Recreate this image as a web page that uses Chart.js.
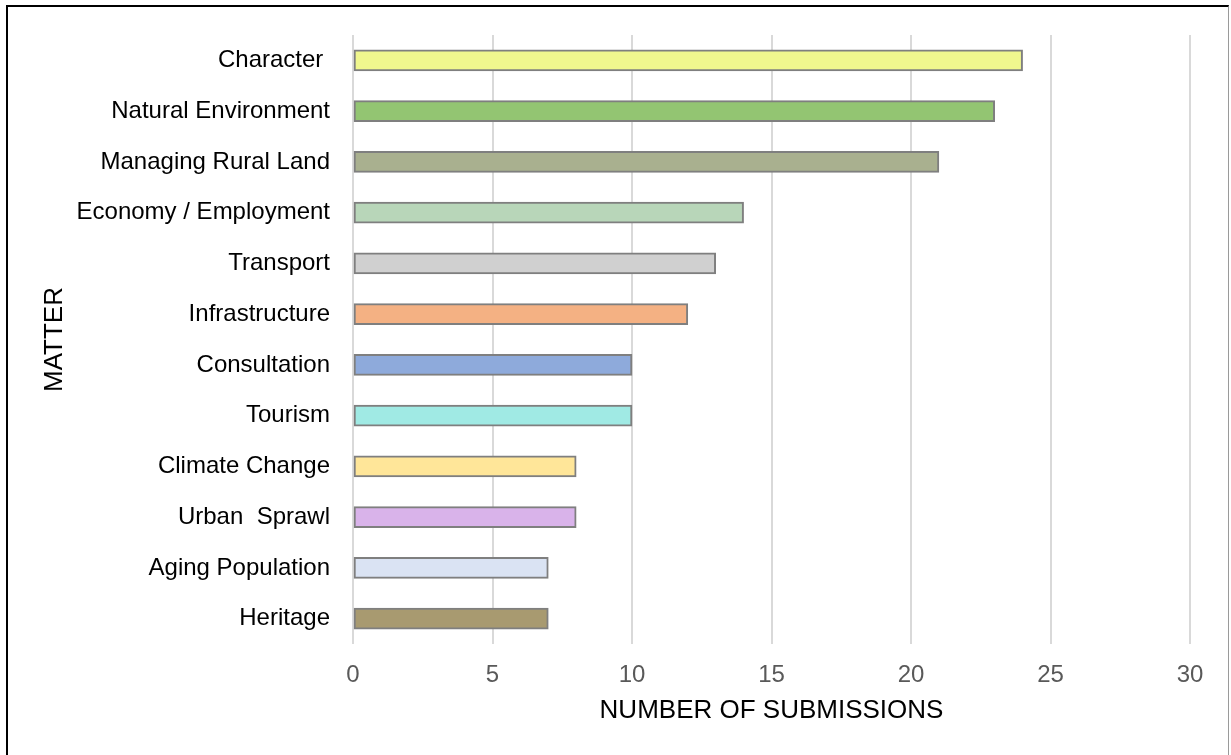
<!DOCTYPE html>
<html>
<head>
<meta charset="utf-8">
<script src="https://cdn.jsdelivr.net/npm/chart.js@4.4.1/dist/chart.umd.min.js"></script>
<style>
  html, body { margin: 0; padding: 0; background: #fff; }
  body { width: 1231px; height: 755px; position: relative; overflow: hidden; }
  #frame {
    position: absolute; left: 6px; top: 5px; width: 1220px; height: 760px;
    border-left: 2.5px solid #000; border-top: 2.5px solid #000; border-right: 1px solid #9a9a9a;
    pointer-events: none;
  }
  #mattersChart { position: absolute; left: 0; top: 0; }
</style>
</head>
<body>
<canvas id="mattersChart" width="1231" height="755"></canvas>
<div id="frame"></div>
<script>
const matters = ['Character ', 'Natural Environment', 'Managing Rural Land', 'Economy / Employment',
  'Transport', 'Infrastructure', 'Consultation', 'Tourism', 'Climate Change', 'Urban  Sprawl',
  'Aging Population', 'Heritage'];
const submissions = [24, 23, 21, 14, 13, 12, 10, 10, 8, 8, 7, 7];
const barColours = ['#f0f78e', '#93c572', '#a9b08f', '#b8d6b9', '#d0d0d0', '#f4b183',
  '#8eaadb', '#a0eae4', '#ffe699', '#d9b3ea', '#dae3f3', '#a89a70'];
const xTicks = [0, 5, 10, 15, 20, 25, 30];

Chart.defaults.font.family = '"Liberation Sans", Arial, sans-serif';

const ctx = document.getElementById('mattersChart').getContext('2d');
const chart = new Chart(ctx, {
  type: 'bar',
  data: {
    labels: matters,
    datasets: [{
      label: 'Number of submissions',
      data: submissions,
      backgroundColor: barColours,
      borderColor: '#7f7f7f',
      borderWidth: 2,
      borderSkipped: false,
      barThickness: 21
    }]
  },
  options: {
    indexAxis: 'y',
    responsive: false,
    animation: false,
    devicePixelRatio: 1,
    layout: { padding: { top: 35, right: 41, bottom: 25, left: 35 } },
    plugins: {
      legend: { display: false },
      tooltip: { enabled: false }
    },
    scales: {
      x: {
        min: 0,
        max: 30,
        afterBuildTicks: (scale) => { scale.ticks = xTicks.map(v => ({ value: v })); },
        afterFit: (scale) => { scale.height = 86; },
        grid: { color: '#d9d9d9', lineWidth: 2, drawTicks: false },
        border: { display: false },
        ticks: { color: '#595959', font: { size: 24 }, padding: 17 },
        title: { display: true, text: 'NUMBER OF SUBMISSIONS', color: '#000', font: { size: 26 }, padding: { top: 4, bottom: 4 } }
      },
      y: {
        afterFit: (scale) => { scale.width = 318; },
        grid: { display: false },
        border: { display: false },
        ticks: { color: '#000', font: { size: 24 }, padding: 15 },
        title: { display: true, text: 'MATTER', color: '#000', font: { size: 26 }, padding: { top: 4, bottom: 4 } }
      }
    }
  }
});
</script>
</body>
</html>
